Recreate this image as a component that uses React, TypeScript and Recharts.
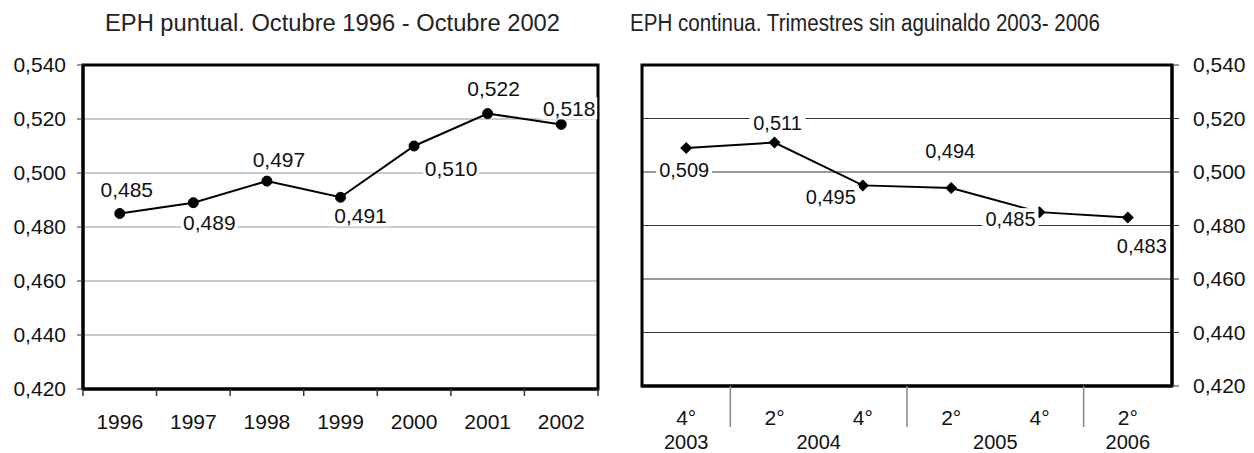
import React from "react";
import { LineChart, Line, XAxis, YAxis, CartesianGrid, LabelList, ReferenceArea } from "recharts";

// EPH puntual (octubre de cada año)
const puntualYears = ["1996", "1997", "1998", "1999", "2000", "2001", "2002"];
const puntualGini = [0.485, 0.489, 0.497, 0.491, 0.51, 0.522, 0.518];

// EPH continua (trimestres sin aguinaldo)
const continuaQuarters = ["4°", "2°", "4°", "2°", "4°", "2°"];
const continuaYears = ["2003", "2004", "2004", "2005", "2005", "2006"];
const continuaGini = [0.509, 0.511, 0.495, 0.494, 0.485, 0.483];

const giniTicks = [0.42, 0.44, 0.46, 0.48, 0.5, 0.52, 0.54];

const leftTitle = "EPH puntual. Octubre 1996 - Octubre 2002";
const rightTitle = "EPH continua. Trimestres sin aguinaldo 2003- 2006";

// label nudges (dx, dy) relative to each point
const puntualLabelNudge = [[7, -24], [16, 20], [12, -22], [20, 18], [37, 22], [6, -25], [8, -16]];
const continuaLabelNudge = [[-2, 22], [3, -20], [-32, 11], [-1, -37], [-29, 7], [14, 28]];

const FONT = '"Liberation Sans", Arial, sans-serif';
const fmt = (v: number) => Number(v).toFixed(3).replace(".", ",");

const LEFT_BAND = 515 / puntualYears.length;
const RIGHT_BAND = 530 / continuaQuarters.length;

const leftData = puntualYears.map((year, i) => ({ year, gini: puntualGini[i] }));
const rightData = continuaQuarters.map((q, i) => ({ key: `${continuaYears[i]}-${q}`, gini: continuaGini[i] }));

function makeLabel(nudges: number[][], fontSize: number) {
  return (props: any) => {
    const { x, y, value, index } = props;
    const [dx, dy] = nudges[index] ?? [0, -20];
    const cx = Number(x) + dx;
    const cy = Number(y) + dy;
    return (
      <g key={`lbl-${index}`}>
        <rect x={cx - 28} y={cy - 11} width={56} height={22} fill="#fff" />
        <text x={cx} y={cy} dy="0.36em" textAnchor="middle" fontSize={fontSize} fontFamily={FONT} fill="#111">
          {fmt(value)}
        </text>
      </g>
    );
  };
}

function YearTick(props: any) {
  const { x, y, index, payload } = props;
  const half = LEFT_BAND / 2;
  const last = index === puntualYears.length - 1;
  return (
    <g>
      <line x1={x - half} x2={x - half} y1={y} y2={y + 7} stroke="#333" strokeWidth={1.5} />
      {last && <line x1={x + half} x2={x + half} y1={y} y2={y + 7} stroke="#333" strokeWidth={1.5} />}
      <text x={x} y={y + 40} textAnchor="middle" fontSize={21} fontFamily={FONT} fill="#111">
        {payload.value}
      </text>
    </g>
  );
}

function QuarterTick(props: any) {
  const { x, y, index } = props;
  const half = RIGHT_BAND / 2;
  const year = continuaYears[index];
  const startsRun = index === 0 || continuaYears[index - 1] !== year;
  let end = index;
  while (end + 1 < continuaYears.length && continuaYears[end + 1] === year) end++;
  return (
    <g>
      {index > 0 && startsRun && (
        <line x1={x - half} x2={x - half} y1={y} y2={y + 41} stroke="#888" strokeWidth={1.5} />
      )}
      <text x={x} y={y + 39} textAnchor="middle" fontSize={21} fontFamily={FONT} fill="#111">
        {continuaQuarters[index]}
      </text>
      {startsRun && (
        <text x={x + (end - index) * half} y={y + 63} textAnchor="middle" fontSize={20} fontFamily={FONT} fill="#111">
          {year}
        </text>
      )}
    </g>
  );
}

const Diamond = (props: any) => {
  const { cx, cy, index } = props;
  return <path key={`d-${index}`} d={`M${cx} ${cy - 6}L${cx + 6} ${cy}L${cx} ${cy + 6}L${cx - 6} ${cy}Z`} fill="#000" />;
};

const frameLine = { stroke: "#000", strokeWidth: 3 };

export default function App() {
  return (
    <div style={{ position: "absolute", left: 0, top: 0, width: 1254, height: 453, background: "#fff", fontFamily: FONT }}>
      <svg width={1254} height={50} style={{ position: "absolute", left: 0, top: 0 }}>
        <text x={105} y={31} fontSize={23} fontFamily={FONT} fill="#222" textLength={455} lengthAdjust="spacingAndGlyphs">
          {leftTitle}
        </text>
        <text x={630} y={31} fontSize={23} fontFamily={FONT} fill="#222" textLength={470} lengthAdjust="spacingAndGlyphs">
          {rightTitle}
        </text>
      </svg>

      <div style={{ position: "absolute", left: 0, top: 0 }}>
        <LineChart width={620} height={453} data={leftData} margin={{ top: 65, right: 22, bottom: 20, left: 0 }}>
          <CartesianGrid vertical={false} stroke="#999" />
          <XAxis dataKey="year" scale="band" height={44} tickSize={0} tickMargin={0} tickLine={false} axisLine={frameLine} tick={(p: any) => <YearTick {...p} />} interval={0} />
          <YAxis
            domain={[0.42, 0.54]}
            ticks={giniTicks}
            interval={0}
            width={83}
            tickSize={6}
            tickMargin={11}
            tickFormatter={fmt}
            tick={{ fontSize: 21, fill: "#111", fontFamily: FONT }}
            tickLine={{ stroke: "#333" }}
            axisLine={frameLine}
          />
          <ReferenceArea y1={0.42} y2={0.54} fill="none" fillOpacity={0} stroke="#000" strokeWidth={3} ifOverflow="visible" />
          <Line dataKey="gini" stroke="#000" strokeWidth={2} dot={{ r: 5, fill: "#000", stroke: "#000", strokeWidth: 1 }} isAnimationActive={false}>
            <LabelList dataKey="gini" content={makeLabel(puntualLabelNudge, 21)} />
          </Line>
        </LineChart>
      </div>

      <div style={{ position: "absolute", left: 620, top: 0 }}>
        <LineChart width={634} height={453} data={rightData} margin={{ top: 65, right: 0, bottom: 20, left: 22 }}>
          <CartesianGrid vertical={false} stroke="#333" />
          <XAxis dataKey="key" scale="band" height={47} tickSize={0} tickMargin={0} tickLine={false} axisLine={frameLine} tick={(p: any) => <QuarterTick {...p} />} interval={0} />
          <YAxis
            orientation="right"
            domain={[0.42, 0.54]}
            ticks={giniTicks}
            interval={0}
            width={82}
            tickSize={7}
            tickMargin={14}
            tickFormatter={fmt}
            tick={{ fontSize: 21, fill: "#111", fontFamily: FONT }}
            tickLine={{ stroke: "#333" }}
            axisLine={frameLine}
          />
          <ReferenceArea y1={0.42} y2={0.54} fill="none" fillOpacity={0} stroke="#000" strokeWidth={3} ifOverflow="visible" />
          <Line dataKey="gini" stroke="#000" strokeWidth={2} dot={Diamond} isAnimationActive={false}>
            <LabelList dataKey="gini" content={makeLabel(continuaLabelNudge, 20)} />
          </Line>
        </LineChart>
      </div>
    </div>
  );
}
